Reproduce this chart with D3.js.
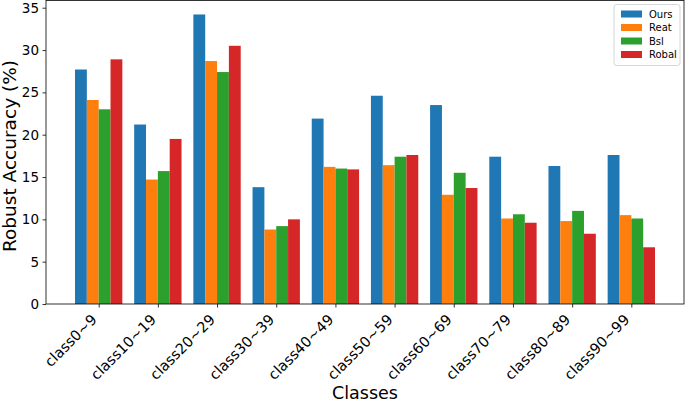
<!DOCTYPE html>
<html><head><meta charset="utf-8">
<script src="https://cdn.jsdelivr.net/npm/d3@7"></script>
<style>
html,body{margin:0;padding:0;background:#fff;}
svg{display:block;font-family:"DejaVu Sans",sans-serif;}
</style></head>
<body><svg id="c" width="685" height="403"></svg>
<script>
const categories = ["class0~9","class10~19","class20~29","class30~39","class40~49","class50~59","class60~69","class70~79","class80~89","class90~99"];
const seriesNames = ["Ours","Reat","Bsl","Robal"];
const ours  = [27.7, 21.2, 34.2, 13.8, 21.9, 24.6, 23.5, 17.4, 16.3, 17.6];
const reat  = [24.1, 14.7, 28.7,  8.8, 16.2, 16.4, 12.9, 10.1,  9.8, 10.5];
const bsl   = [23.0, 15.7, 27.4,  9.2, 16.0, 17.4, 15.5, 10.6, 11.0, 10.1];
const robal = [28.9, 19.5, 30.5, 10.0, 15.9, 17.6, 13.7,  9.6,  8.3,  6.7];
const yTicks = [0,5,10,15,20,25,30,35];
const colors = ["#1f77b4","#ff7f0e","#2ca02c","#d62728"];
const series = [ours, reat, bsl, robal];

const svg = d3.select("#c");
const L = 46, R = 684, T = 0, B = 304;
const barW = 0.2;
const xMin = -0.4, xMax = categories.length - 1 + 0.4;
const xPad = (xMax - xMin) * 0.05;
const x = d3.scaleLinear().domain([xMin - xPad, xMax + xPad]).range([L, R]);
const yMax = d3.max(series.flat()) * 1.05;
const y = d3.scaleLinear().domain([0, yMax]).range([B, T]);

// bars
series.forEach((vals, s) => {
  svg.append("g").selectAll("rect").data(vals).join("rect")
    .attr("x", (d, i) => x(i - 0.4 + s * barW))
    .attr("width", (d, i) => x(i - 0.4 + (s + 1) * barW) - x(i - 0.4 + s * barW))
    .attr("y", d => y(d))
    .attr("height", d => B - y(d))
    .attr("fill", colors[s]);
});

// axes
const xAxis = d3.axisBottom(x).tickValues(d3.range(categories.length))
  .tickFormat(i => categories[i]).tickSize(3.5).tickPadding(3.5);
const gx = svg.append("g").attr("transform", `translate(0,${B})`).call(xAxis);
gx.select(".domain").remove();
gx.selectAll(".tick line").attr("stroke", "#000").attr("stroke-width", 0.8);
gx.selectAll(".tick text")
  .attr("font-size", "14.5px").attr("fill", "#000")
  .attr("font-family", "DejaVu Sans")
  .attr("text-anchor", "end")
  .attr("y", 0).attr("dy", "0.35em")
  .attr("transform", "translate(-5,13) rotate(-45)");

const yAxis = d3.axisLeft(y).tickValues(yTicks).tickSize(3.5).tickPadding(3.5);
const gy = svg.append("g").attr("transform", `translate(${L},0)`).call(yAxis);
gy.select(".domain").remove();
gy.selectAll(".tick line").attr("stroke", "#000").attr("stroke-width", 0.8);
gy.selectAll(".tick text").attr("font-size", "13.5px").attr("fill", "#000")
  .attr("font-family", "DejaVu Sans");

// spines
svg.append("rect").attr("x", L).attr("y", T + 0.4).attr("width", R - L).attr("height", B - T - 0.4)
  .attr("fill", "none").attr("stroke", "#000").attr("stroke-width", 0.8);

// labels
svg.append("text").attr("x", (L + R) / 2).attr("y", 399).attr("text-anchor", "middle")
  .attr("font-size", "17.5px").attr("fill", "#000").text("Classes");
svg.append("text").attr("transform", `translate(16,${(T + B) / 2 + 4}) rotate(-90)`)
  .attr("text-anchor", "middle").attr("font-size", "18.5px").attr("fill", "#000")
  .text("Robust Accuracy (%)");

// legend
const lg = svg.append("g").attr("transform", "translate(614,4.5)");
lg.append("rect").attr("width", 66).attr("height", 61).attr("rx", 2.5)
  .attr("fill", "#fff").attr("fill-opacity", 0.8).attr("stroke", "#cccccc").attr("stroke-width", 0.8);
seriesNames.forEach((n, i) => {
  const cy = 9.5 + i * 13.5;
  lg.append("rect").attr("x", 7).attr("y", cy - 3.5).attr("width", 21).attr("height", 7).attr("fill", colors[i]);
  lg.append("text").attr("x", 35).attr("y", cy).attr("dy", "0.35em")
    .attr("font-size", "10px").attr("fill", "#000").text(n);
});
</script></body></html>
